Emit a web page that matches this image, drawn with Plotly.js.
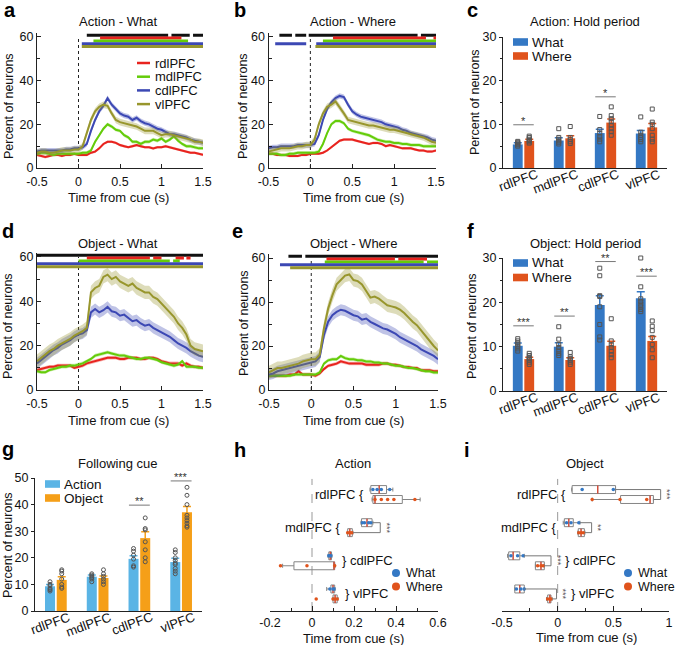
<!DOCTYPE html>
<html>
<head>
<meta charset="utf-8">
<script src="https://cdn.plot.ly/plotly-3.0.1.min.js"></script>
<style>html,body{margin:0;padding:0;background:#fff;}#chart{width:675px;height:645px;}</style>
</head>
<body>
<div id="chart"></div>
<script>
// ================= DATA =================
const time = [-0.5,-0.45,-0.4,-0.35,-0.3,-0.25,-0.2,-0.15,-0.1,-0.05,0,0.05,0.1,0.15,0.2,0.25,0.3,0.35,0.4,0.45,0.5,0.55,0.6,0.65,0.7,0.75,0.8,0.85,0.9,0.95,1,1.05,1.1,1.15,1.2,1.25,1.3,1.35,1.4,1.45,1.5];
const regions = ['rdlPFC','mdlPFC','cdlPFC','vlPFC'];
const timeTicks = [-0.5,0,0.5,1,1.5];
const timeTickText = ['-0.5','0','0.5','1','1.5'];

// Panel a: Action - What
const aRdl = [6,5.5,5,5.5,6,6,5.5,6,6,6.5,6, 6,6,7,7.5,9,11,12,12,11.5,10.5, 10,9.5,10,10.5,10,9.5,9.5,9,9.5,9.5, 10,9.5,9,8.5,8,7.5,7,7,6.5,6];
const aMdl = [6.5,7,7,6.5,6,6.5,6.5,6.5,6.5,6.5,6.5, 7,7,8,12,15,18,20,19,17.5,17, 15,14,12,12,11,12,12,13,12.5,13.5, 12,13,14.5,12.5,11,10,10,9.5,9,9];
const aCdl = [7.5,8,8,8,8,8,8,8.5,8.5,9,9, 9.5,11,17,22,26,28.5,32,29,27,25, 24,23.5,22,23,21.5,20.5,20,19,18,17.5, 16.5,15.5,15.5,15,14.5,14,13,12.5,12,11.5];
const aVl  = [7,7.5,7.5,7,7,7.5,8,8,8,8.5,8.5, 10,16,22,26,28,29,28.5,25,22,21, 20.5,20,19.5,19,18,17,17,17,16,15, 15.5,15.5,15,14.5,14,13.5,13,12,12,11.5];
const aSem = [0.6,0.8,1.2,1.5];
// significance segments: [all, rdl, mdl, cdl, vl]
const aSig = [[[0.1,1.08],[1.12,1.34],[1.38,1.5]], [[0.26,1.24]], [[0.18,1.32]], [[0.04,1.5]], [[0.04,1.5]]];

// Panel b: Action - Where
const bRdl = [6.5,6.5,6,6,6,5.5,5.5,5.5,6,6,6.5, 6.5,6.5,7,8,9.5,11,12.5,13,13,13, 12.5,12,11.5,11,11.5,11.5,11,10,10.5,10, 9.5,9,9,9,8.5,8,8,7.5,7.5,8];
const bMdl = [6.5,6.5,6.5,6,6,6.5,6.5,7,7,7,7, 7,7.5,11,16,20,21.5,21.5,20.5,18,17, 16.5,16,15.5,15,14,13,12.5,12,12,11.5, 11.5,11,11,10.5,10.5,10.5,10,10,10,10];
const bCdl = [9,9.5,9.5,10,10,10,10,10.5,10.5,10.5,10.5, 11,15,22,27,30,32,33,32.5,29,26, 24.5,23.5,23,22.5,22,21.5,21,20,19.5,19, 18.5,17.5,17,16,15.5,15,14.5,14,13,12.5];
const bVl  = [7.5,8,8.5,9,9,9,9.5,10,10,10.5,10.5, 13,20,25,28,29,30.5,28,25,22,21.5, 21,20.5,20,19.5,19.5,19,18.5,18,17.5,17.5, 17,16.5,16,15.5,15,14.5,14,13,12,11.5];
const bSem = [0.6,0.8,1.2,1.5];
const bSig = [[[-0.37,-0.22],[-0.18,-0.05],[-0.02,1.28],[1.32,1.5]], [[0.27,1.38],[1.47,1.5]], [[0.15,1.5]], [[-0.42,-0.05],[0.07,1.5]], [[0.06,1.5]]];

// Panel d: Object - What
const dRdl = [9,9.5,10,10.5,10.5,11,11,11,11,10,10.5, 11,12,12.5,13,13.5,14,14.5,14.5,14.5,14, 14,14.5,14.5,14.5,14,14,14.5,14.5,14,13, 12.5,12,12,12,11,12,11,10.5,10.5,10];
const dMdl = [8.5,8,8,9,9.5,10,10.5,10.5,11,11,11.5, 12,13,14,15.5,16,16.5,17,16.5,16,15.5, 15.5,15,14.5,14,14,14.5,14.5,14,13.5,12.5, 12,11.5,11,11.5,13,10.5,10.5,10.5,10,10];
const dCdl = [12,13.5,15,16.5,18,19,20.5,21.5,22.5,24,25, 25.5,27,35,36.5,35,36,37.5,35.5,35,33.5, 34,32.5,31,31.5,30,29,29.5,28,27,26, 25,24,22.5,21,20,19,17.5,16.5,15.5,15];
const dVl  = [13,14.5,16,17.5,18.5,20,21,22,23,24.5,25.5, 26.5,28,44,46,47,51,52,50,51,49, 48,47,48,46,45,44,44,42,41,39, 37,35,33,30,28,25,20,18.5,18,17.5];
const dSem = [0.8,0.8,2.5,3];
const dSig = [[[-0.5,1.5]], [[0.1,0.86],[0.9,1.0],[1.17,1.27],[1.3,1.35]], [[0,1.1],[1.14,1.22]], [[-0.5,1.5]], [[-0.5,1.5]]];

// Panel e: Object - Where
const eRdl = [6.5,6.5,6.5,6.5,6.5,7,7,8.5,7,7,7, 6.5,7.5,9.5,11,11.5,12,13,12.5,12,12, 12,12,11.5,11.5,11.5,11.5,12,12,11.5,11.5, 11,10.5,10.5,10,10,9,9,9,8.5,8.5];
const eMdl = [6.5,6.5,6.5,6.5,6.5,6.5,7,7,7,7,7, 7,8,12,13.5,14,14,15.5,14.5,14,14, 13.5,13.5,13,13,12.5,12.5,12,12,11.5,11, 11,10.5,10,10,9.5,9,8.5,8.5,8,8];
const eCdl = [7,7.5,8.5,9,9.5,10,10.5,11,11.5,12,12.5, 13,15,25,31,34,35.5,36.5,36,35,34, 33.5,32,32.5,31,30,29,28,27.5,26.5,25.5, 24,23,22,21,20,18.5,17.5,16.5,15.5,14];
const eVl  = [8,9,10,10,10.5,11,11.5,12,13,13.5,14, 14,16,28,37,43,48,50,52,52.5,50, 49.5,48,45,42,42.5,41.5,40,38.5,38,37.5, 36.5,35,33,31,29.5,27,24.5,22,20,18];
const eSem = [0.8,0.8,2.5,3];
const eSig = [[[-0.27,-0.11],[-0.07,1.5]], [[0.18,0.99],[1.03,1.37]], [[0.16,1.33],[1.37,1.5]], [[-0.37,1.5]], [[-0.25,1.5]]];

// Panel c: Action hold period
const cWhat = [5.4, 6.3, 8.0, 7.9];
const cWhatErr = [0.4, 0.6, 0.9, 0.7];
const cWhere = [6.2, 6.8, 10.4, 9.3];
const cWhereErr = [0.4, 0.6, 0.8, 0.9];
const cWhatPts = [[5.0,5.3,5.5,5.7,5.9,6.1],[5.5,5.9,6.2,6.6,7.0,9.0],[6.0,6.6,7.2,8.0,8.8,11.8],[6.0,6.5,7.0,7.5,8.2,11.7]];
const cWherePts = [[5.7,6.0,6.3,6.6,7.0,7.3],[5.6,6.0,6.5,7.0,9.5],[7.5,8.3,9.0,9.8,10.6,11.3,12.0,14.0],[6.0,6.6,7.5,9.0,10.0,10.5,13.5]];
const cSigY = [9.9, null, 16.3, null];
const cSigTxt = ['*', '', '*', ''];

// Panel f: Object hold period
const fWhat = [10.2, 10.0, 19.4, 20.9];
const fWhatErr = [0.6, 0.9, 2.1, 1.5];
const fWhere = [7.2, 7.0, 10.2, 11.3];
const fWhereErr = [0.4, 0.5, 1.0, 1.0];
const fWhatPts = [[9.0,9.5,10.0,10.4,10.8,11.3,11.8],[8.0,8.5,9.2,9.8,10.5,11.7,14.5],[11.5,12.2,15.0,19.0,21.3,21.5,26.0,27.7],[17.9,18.4,19.0,19.6,20.2,20.8,23.5,30.0]];
const fWherePts = [[6.0,6.5,7.0,7.3,7.6,8.0,8.5],[6.0,6.5,7.0,7.3,7.7,8.7],[7.5,8.2,9.0,9.8,10.4,11.3,16.3],[7.5,9.3,10.5,12.1,13.6,14.6,15.8]];
const fSigY = [14.7, 16.9, 29.2, 25.9];
const fSigTxt = ['***', '**', '**', '***'];

// Panel g: Following cue
const gAction = [9.3, 12.9, 19.6, 18.4];
const gActionErr = [0.7, 0.6, 1.2, 1.4];
const gObject = [11.7, 12.4, 27.4, 37.1];
const gObjectErr = [1.2, 0.8, 2.4, 2.2];
const gActionPts = [[7.5,8,8.5,9.5,10,11],[11,12,12.5,13,13.5,14],[16.5,17,19.5,21,22.5,23.5],[14,15,16,17.5,18,19,20,22,23]];
const gObjectPts = [[8.5,9,10,12,14,15,15.5],[10,11,12,13,14,15.5],[18.5,20,23,26,30.5,31,35],[31.5,32,33,34,35,36,40,43.5,46.5]];
const gSigY = [null, null, 39.8, 48.9];
const gSigTxt = ['', '', '**', '***'];

// Panel h: Action latency boxes
const hWhatLow  = [0.276, 0.233, 0.076, 0.07];
const hWhatQ1   = [0.28, 0.236, 0.08, 0.09];
const hWhatMed  = [0.32, 0.262, 0.087, 0.10];
const hWhatQ3   = [0.355, 0.286, 0.093, 0.108];
const hWhatHigh = [0.385, 0.29, 0.095, 0.11];
const hWhereLow  = [0.286, 0.168, -0.14, 0.1];
const hWhereQ1   = [0.29, 0.17, -0.086, 0.1];
const hWhereMed  = [0.30, 0.18, 0.105, 0.11];
const hWhereQ3   = [0.43, 0.192, 0.108, 0.12];
const hWhereHigh = [0.515, 0.195, 0.11, 0.124];
const hWhatPts  = [[0.29,0.31,0.33,0.37],[0.24,0.25,0.27,0.28],[0.08,0.085,0.09],[0.085,0.1,0.105]];
const hWherePts = [[0.30,0.33,0.36,0.39,0.49],[0.17,0.18,0.19],[-0.15,-0.024,0.108],[0.02,0.1,0.11,0.12]];
const hBracketX = [null, 0.325, null, null];
const hBracketTxt = ['', '***', '', ''];
const hTicks = [-0.2,0,0.2,0.4,0.6];
const hTickText = ['-0.2','0','0.2','0.4','0.6'];

// Panel i: Object latency boxes
const iWhatLow  = [0.126, 0.05, -0.45, -0.385];
const iWhatQ1   = [0.13, 0.06, -0.44, -0.385];
const iWhatMed  = [0.36, 0.10, -0.40, -0.34];
const iWhatQ3   = [0.52, 0.14, -0.34, -0.30];
const iWhatHigh = [0.52, 0.20, -0.30, -0.30];
const iWhereLow  = [0.31, 0.18, -0.20, -0.10];
const iWhereQ1   = [0.565, 0.185, -0.20, -0.09];
const iWhereMed  = [0.83, 0.21, -0.15, -0.07];
const iWhereQ3   = [0.86, 0.24, -0.12, -0.06];
const iWhereHigh = [0.86, 0.245, -0.12, -0.05];
const iWhatPts  = [[0.22,0.5],[0.08,0.12,0.19],[-0.42,-0.36,-0.31],[-0.37,-0.33,-0.3]];
const iWherePts = [[0.31,0.56,0.8],[0.19,0.21,0.23],[-0.18,-0.15,-0.13],[-0.09,-0.07,-0.06]];
const iBracketX = [0.925, 0.305, -0.06, -0.01];
const iBracketTxt = ['***', '**', '***', '***'];
const iTicks = [-0.5,0,0.5,1];
const iTickText = ['-0.5','0','0.5','1'];

// ================= STYLE / BUILD =================
const W = 675, H = 645;
const FONT = 'Liberation Sans, Arial, Helvetica, sans-serif';
const TICK = 12.5;
const fx = p => p / W, fy = p => 1 - p / H;
const rgb = c => 'rgb(' + c.join(',') + ')';
const rgba = (c, a) => 'rgba(' + c.join(',') + ',' + a + ')';
const AREA_COLORS = [[232,35,30],[100,204,10],[60,72,180],[152,150,45]];
const SIG_COLORS = ['#111111', rgb(AREA_COLORS[0]), rgb(AREA_COLORS[1]), rgb(AREA_COLORS[2]), rgb(AREA_COLORS[3])];
const SIG_LEVELS = [60.8, 59.5, 58.2, 56.9, 55.6];
const BLUE = '#3478c4', ORANGE = '#e0531c', SKY = '#5ab4e5', AMBER = '#f59f18';

const traces = [], shapes = [], ann = [];
const layout = {
  width: W, height: H, margin: {l:0, r:0, t:0, b:0}, autosize: false,
  showlegend: false, paper_bgcolor: '#fff', plot_bgcolor: 'rgba(0,0,0,0)',
  font: {family: FONT, size: 13, color: '#111'},
  barmode: 'overlay', boxmode: 'overlay', hovermode: false
};
const sfx = n => n === 1 ? '' : String(n);

function setAxes(n, xd, yd, xopt, yopt) {
  const base = {showgrid:false, zeroline:false, showline:true, linecolor:'#222', linewidth:1,
    tickfont:{size:TICK, family:FONT, color:'#111'}, tickcolor:'#222', fixedrange:true, automargin:false};
  layout['xaxis' + sfx(n)] = Object.assign({}, base, {domain:[fx(xd[0]), fx(xd[1])], anchor:'y' + sfx(n)}, xopt);
  layout['yaxis' + sfx(n)] = Object.assign({}, base, {domain:[fy(yd[1]), fy(yd[0])], anchor:'x' + sfx(n)}, yopt);
}
function txt(text, px, py, opts) {
  ann.push(Object.assign({text:text, x:fx(px), y:fy(py), xref:'paper', yref:'paper', showarrow:false,
    font:{size:13, family:FONT, color:'#111'}, xanchor:'center', yanchor:'middle'}, opts || {}));
}

// ---- time-series panels ----
const tsX = {range:[-0.5,1.5], tickmode:'array', tickvals:timeTicks, ticktext:timeTickText, ticks:'inside', ticklen:4, ticklabelstandoff:2};
const tsY = {range:[0,62], tick0:0, dtick:20, ticks:'inside', ticklen:4, minor:{dtick:10, tick0:0, ticks:'inside', ticklen:3, tickcolor:'#222'}};
function tsPanel(n, series, sems, sigs) {
  const xa = 'x' + sfx(n), ya = 'y' + sfx(n);
  series.forEach((ser, k) => {
    const up = ser.map(v => v + sems[k]), lo = ser.map(v => v - sems[k]);
    traces.push({type:'scatter', mode:'lines', x: time.concat(time.slice().reverse()),
      y: up.concat(lo.slice().reverse()), fill:'toself', fillcolor: rgba(AREA_COLORS[k], 0.33),
      line:{width:0}, hoverinfo:'skip', xaxis:xa, yaxis:ya});
    traces.push({type:'scatter', mode:'lines', x: time, y: ser, line:{color: rgb(AREA_COLORS[k]), width:2},
      xaxis:xa, yaxis:ya});
  });
  sigs.forEach((segs, k) => {
    const xs = [], ys = [];
    segs.forEach(s => { xs.push(s[0], s[1], null); ys.push(SIG_LEVELS[k], SIG_LEVELS[k], null); });
    traces.push({type:'scatter', mode:'lines', x:xs, y:ys, line:{color:SIG_COLORS[k], width:3},
      xaxis:xa, yaxis:ya, hoverinfo:'skip'});
  });
  shapes.push({type:'line', xref:xa, yref:ya, x0:0, x1:0, y0:0, y1:60, layer:'below',
    line:{color:'#222', width:1, dash:'dot'}});
}
setAxes(1, [37,203], [32.6,168], tsX, tsY);
setAxes(2, [268.5,436], [32.6,168], tsX, tsY);
setAxes(4, [37,203], [252.5,390], tsX, tsY);
setAxes(5, [269,438], [253.6,390], tsX, tsY);
tsPanel(1, [aRdl,aMdl,aCdl,aVl], aSem, aSig);
tsPanel(2, [bRdl,bMdl,bCdl,bVl], bSem, bSig);
tsPanel(4, [dRdl,dMdl,dCdl,dVl], dSem, dSig);
tsPanel(5, [eRdl,eMdl,eCdl,eVl], eSem, eSig);

// legend of panel a
regions.forEach((r, k) => {
  const py = 63 + k * 13.7;
  shapes.push({type:'line', xref:'paper', yref:'paper', x0:fx(137), x1:fx(150), y0:fy(py), y1:fy(py),
    line:{color: rgb(AREA_COLORS[k]), width:2.5}});
  txt(r, 153, py, {xanchor:'left', font:{size:13, family:FONT, color:'#111'}});
});

// ---- bar panels ----
const OFF = 0.14, BW = 0.24;
function barPanel(n, A, Aerr, B, Berr, Apts, Bpts, sigY, sigTxt, colA, colB, sym, bottomPx) {
  const xa = 'x' + sfx(n), ya = 'y' + sfx(n);
  const xsA = regions.map((_, i) => i - OFF), xsB = regions.map((_, i) => i + OFF);
  traces.push({type:'bar', x:xsA, y:A, width:BW, marker:{color:colA, line:{width:0}},
    error_y:{type:'data', array:Aerr, visible:true, color:colA, thickness:1.5, width:4}, xaxis:xa, yaxis:ya});
  traces.push({type:'bar', x:xsB, y:B, width:BW, marker:{color:colB, line:{width:0}},
    error_y:{type:'data', array:Berr, visible:true, color:colB, thickness:1.5, width:4}, xaxis:xa, yaxis:ya});
  const px = [], py = [];
  Apts.forEach((arr, i) => arr.forEach(v => { px.push(i - OFF); py.push(v); }));
  Bpts.forEach((arr, i) => arr.forEach(v => { px.push(i + OFF); py.push(v); }));
  traces.push({type:'scatter', mode:'markers', x:px, y:py, cliponaxis:false,
    marker:{symbol:sym, size:4, color:'#555', line:{width:1, color:'#555'}}, xaxis:xa, yaxis:ya});
  const sx = [], sy = [];
  sigY.forEach((v, i) => {
    if (v === null) return;
    sx.push(i - 0.25, i + 0.25, null); sy.push(v, v, null);
    ann.push({text:sigTxt[i], x:i, y:v, xref:xa, yref:ya, showarrow:false, yanchor:'bottom', yshift:-4,
      font:{size:11, family:FONT, color:'#333'}});
  });
  traces.push({type:'scatter', mode:'lines', x:sx, y:sy, line:{color:'#777', width:1}, xaxis:xa, yaxis:ya});
  regions.forEach((r, i) => {
    ann.push({text:r, x:i, xref:xa, y:fy(bottomPx), yref:'paper', showarrow:false, textangle:-20,
      xanchor:'right', yanchor:'top', xshift:18, yshift:4, font:{size:13, family:FONT, color:'#111'}});
  });
}
const barX = {range:[-0.5,3.5], showticklabels:false, ticks:''};
setAxes(3, [503,667], [37,168], barX, {range:[0,30], dtick:10, ticks:'outside', ticklen:3, minor:{dtick:5, ticks:'outside', ticklen:2, tickcolor:'#222'}});
setAxes(6, [503,667], [258,391], barX, {range:[0,30], dtick:10, ticks:'outside', ticklen:3, minor:{dtick:5, ticks:'outside', ticklen:2, tickcolor:'#222'}});
setAxes(7, [35,202], [478,611], barX, {range:[0,50], dtick:10, ticks:'outside', ticklen:3});
barPanel(3, cWhat, cWhatErr, cWhere, cWhereErr, cWhatPts, cWherePts, cSigY, cSigTxt, BLUE, ORANGE, 'square-open', 168);
barPanel(6, fWhat, fWhatErr, fWhere, fWhereErr, fWhatPts, fWherePts, fSigY, fSigTxt, BLUE, ORANGE, 'square-open', 391);
barPanel(7, gAction, gActionErr, gObject, gObjectErr, gActionPts, gObjectPts, gSigY, gSigTxt, SKY, AMBER, 'circle-open', 611);

function swatchLegend(px, pys, labels, cols) {
  labels.forEach((l, k) => {
    shapes.push({type:'rect', xref:'paper', yref:'paper', x0:fx(px), x1:fx(px + 15), y0:fy(pys[k] + 3.8), y1:fy(pys[k] - 3.8),
      fillcolor:cols[k], line:{width:0}});
    txt(l, px + 17, pys[k], {xanchor:'left', font:{size:13.5, family:FONT, color:'#111'}});
  });
}
swatchLegend(513, [42, 56], ['What','Where'], [BLUE, ORANGE]);
swatchLegend(513, [263, 277.5], ['What','Where'], [BLUE, ORANGE]);
swatchLegend(45, [484, 498], ['Action','Object'], [SKY, AMBER]);

// ---- box panels ----
const ROWS = [3,2,1,0], DY = 0.15, BOXW = 0.24;
function boxPanel(n, wl, wq1, wm, wq3, wh, rl, rq1, rm, rq3, rh, wPts, rPts, brX, brTxt) {
  const xa = 'x' + sfx(n), ya = 'y' + sfx(n);
  const posW = ROWS.map(p => p + DY), posR = ROWS.map(p => p - DY);
  const boxBase = {type:'box', orientation:'h', width:BOXW, line:{color:'#858585', width:1},
    fillcolor:'rgba(0,0,0,0)', whiskerwidth:0.5, boxpoints:false, xaxis:xa, yaxis:ya};
  traces.push(Object.assign({}, boxBase, {y:posW, lowerfence:wl, q1:wq1, median:wm, q3:wq3, upperfence:wh}));
  traces.push(Object.assign({}, boxBase, {y:posR, lowerfence:rl, q1:rq1, median:rm, q3:rq3, upperfence:rh}));
  const mx = [], my = [];
  wm.forEach((v, i) => { mx.push(v, v, null); my.push(posW[i] - BOXW/2, posW[i] + BOXW/2, null); });
  rm.forEach((v, i) => { mx.push(v, v, null); my.push(posR[i] - BOXW/2, posR[i] + BOXW/2, null); });
  traces.push({type:'scatter', mode:'lines', x:mx, y:my, line:{color:'#e0402a', width:1.2}, xaxis:xa, yaxis:ya});
  [[wPts, posW, BLUE], [rPts, posR, ORANGE]].forEach(([pts, pos, col]) => {
    const px = [], py = [];
    pts.forEach((arr, i) => arr.forEach(v => { px.push(v); py.push(pos[i]); }));
    traces.push({type:'scatter', mode:'markers', x:px, y:py, marker:{size:3.5, color:col}, xaxis:xa, yaxis:ya});
  });
  const bx = [], by = [];
  brX.forEach((b, i) => {
    if (b === null) return;
    bx.push(wh[i], b, b, rh[i], null); by.push(posW[i], posW[i], posR[i], posR[i], null);
    ann.push({text:brTxt[i], x:b, y:ROWS[i], xref:xa, yref:ya, showarrow:false, textangle:90,
      xanchor:'left', yanchor:'middle', xshift:0, font:{size:9, family:FONT, color:'#555'}});
  });
  traces.push({type:'scatter', mode:'lines', x:bx, y:by, line:{color:'#777', width:1}, xaxis:xa, yaxis:ya});
  regions.forEach((r, i) => {
    const left = i < 2;
    if (left) {
      const xmin = Math.min(wl[i], rl[i], wq1[i], rq1[i]);
      ann.push({text:r + ' {', x:xmin, y:ROWS[i], xref:xa, yref:ya, showarrow:false, xanchor:'right', xshift:-4,
        font:{size:13, family:FONT, color:'#111'}});
    } else {
      let xmax = Math.max(wh[i], rh[i]); let sh = 5;
      if (brX[i] !== null) { xmax = Math.max(xmax, brX[i]); sh = 12; }
      ann.push({text:'} ' + r, x:xmax, y:ROWS[i], xref:xa, yref:ya, showarrow:false, xanchor:'left', xshift:sh,
        font:{size:13, family:FONT, color:'#111'}});
    }
  });
  shapes.push({type:'line', xref:xa, yref:ya + ' domain', x0:0, x1:0, y0:0, y1:0.95, layer:'below',
    line:{color:'#999', width:1, dash:'dash'}});
}
const boxY = {range:[-0.515,3.68], visible:false, showline:false};
setAxes(8, [270,438], [472,611], {range:[-0.2,0.6], tickmode:'array', tickvals:hTicks, ticktext:hTickText,
  ticks:'inside', ticklen:5, minor:{tickmode:'array', tickvals:[-0.1,0.1,0.3,0.5], ticks:'inside', ticklen:3, tickcolor:'#222'}}, boxY);
setAxes(9, [502,669], [472,611], {range:[-0.5,1], tickmode:'array', tickvals:iTicks, ticktext:iTickText,
  ticks:'inside', ticklen:5, minor:{tickmode:'array', tickvals:[-0.25,0.25,0.75], ticks:'inside', ticklen:3, tickcolor:'#222'}}, boxY);
boxPanel(8, hWhatLow, hWhatQ1, hWhatMed, hWhatQ3, hWhatHigh, hWhereLow, hWhereQ1, hWhereMed, hWhereQ3, hWhereHigh, hWhatPts, hWherePts, hBracketX, hBracketTxt);
boxPanel(9, iWhatLow, iWhatQ1, iWhatMed, iWhatQ3, iWhatHigh, iWhereLow, iWhereQ1, iWhereMed, iWhereQ3, iWhereHigh, iWhatPts, iWherePts, iBracketX, iBracketTxt);

function dotLegend(px, pys) {
  [['What', BLUE], ['Where', ORANGE]].forEach(([l, c], k) => {
    shapes.push({type:'circle', xref:'paper', yref:'paper', x0:fx(px - 4), x1:fx(px + 4), y0:fy(pys[k] + 4), y1:fy(pys[k] - 4),
      fillcolor:c, line:{width:0}});
    txt(l, px + 8, pys[k], {xanchor:'left', font:{size:12.5, family:FONT, color:'#111'}});
  });
}
dotLegend(396, [573, 586.5]);
dotLegend(628, [573, 586.5]);

// ---- titles, axis titles, panel letters ----
const titles = [['Action - What',118,21],['Action - Where',353,21],['Action: Hold period',585,21],
  ['Object - What',118,243],['Object - Where',353,243],['Object: Hold period',585,243],
  ['Following cue',118,463],['Action',353,463],['Object',585,463]];
titles.forEach(t => txt(t[0], t[1], t[2]));
[[9,106],[243,106],[475,102],[8,326],[244,323],[472,326],[8,545]].forEach(p =>
  txt('Percent of neurons', p[0], p[1], {textangle:-90, font:{size:12.5, family:FONT, color:'#111'}}));
[[118,197],[353,197],[118,420],[353,420],[353,638],[586,637]].forEach(p => txt('Time from cue (s)', p[0], p[1]));
[['a',10,10],['b',240,10],['c',472,10],['d',8,231],['e',238,231],['f',470,231],['g',8,449],['h',240,450],['i',467,450]]
  .forEach(l => txt('<b>' + l[0] + '</b>', l[1], l[2], {font:{size:20, family:FONT, color:'#000'}}));

layout.shapes = shapes;
layout.annotations = ann;
Plotly.newPlot('chart', traces, layout, {staticPlot:true, displayModeBar:false});
</script>
</body>
</html>
